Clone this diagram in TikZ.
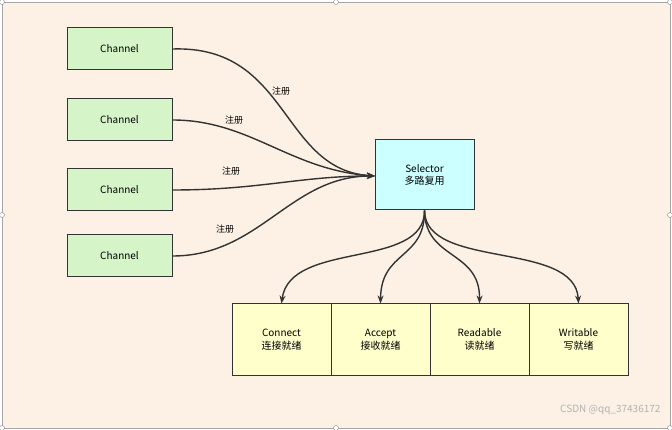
\documentclass[tikz,border=0pt]{standalone}
\usepackage{fontspec}
\setmainfont{Liberation Sans}
\newfontfamily\cjk{Noto Sans CJK SC}
\usetikzlibrary{arrows.meta}
\definecolor{bg}{HTML}{FCF1E4}
\definecolor{gr}{HTML}{D5F5C8}
\definecolor{cy}{HTML}{CCFFFF}
\definecolor{ye}{HTML}{FFFFCC}
\definecolor{ln}{HTML}{333333}
\begin{document}
\begin{tikzpicture}[x=1pt,y=-1pt,
 box/.style={draw=ln,line width=1pt,minimum width=105pt,minimum height=42pt,font=\fontsize{10}{12.5}\selectfont\cjk,align=center,inner sep=0},
 ch/.style={box,fill=gr},
 bt/.style={box,fill=ye,minimum width=99pt,minimum height=71pt},
 ar/.style={draw=ln,line width=1.4pt,-{Stealth[length=8pt,width=6pt]}},
 lb/.style={font=\fontsize{9}{11}\selectfont\cjk},
 hd/.style={circle,draw=gray,fill=white,inner sep=0,minimum size=5pt}]
\useasboundingbox (0,0) rectangle (672,430);
\draw[gray!70,fill=bg] (2,2) rectangle (670,428);
\foreach \p in {(2,2),(336,2),(670,2),(2,215),(670,215),(2,428),(336,428),(670,428)} \node[hd] at \p {};
\node[ch] (c1) at (119.5,49) {Channel};
\node[ch] (c2) at (119.5,120) {Channel};
\node[ch] (c3) at (119.5,190) {Channel};
\node[ch] (c4) at (119.5,256) {Channel};
\node[box,fill=cy,minimum width=99pt,minimum height=70pt] (s) at (424.5,175) {Selector\\多路复用};
\node[bt] (b1) at (281.5,339.5) {Connect\\连接就绪};
\node[bt] (b2) at (380.5,339.5) {Accept\\接收就绪};
\node[bt] (b3) at (479.5,339.5) {Readable\\读就绪};
\node[bt] (b4) at (578.5,339.5) {Writable\\写就绪};
\coordinate (t) at (375,176);
\draw[ar] (c1.east) .. controls (290,45) and (280,170) .. (t);
\draw[ar] (c2.east) .. controls (250,120) and (290,170) .. (t);
\draw[ar] (c3.east) .. controls (260,190) and (300,176) .. (t);
\draw[ar] (c4.east) .. controls (260,256) and (290,176) .. (t);
\node[lb] at (281,91) {注册};
\node[lb] at (234,120) {注册};
\node[lb] at (231,171) {注册};
\node[lb] at (225,229) {注册};
\draw[ar] (s.south) .. controls (425,270) and (290,240) .. (b1.north);
\draw[ar] (s.south) .. controls (425,260) and (381,250) .. (b2.north);
\draw[ar] (s.south) .. controls (425,260) and (480,250) .. (b3.north);
\draw[ar] (s.south) .. controls (425,270) and (575,240) .. (b4.north);
\node[font=\fontsize{10}{12}\selectfont\cjk,text=gray!60,anchor=east] (w) at (664,410) {CSDN @qq\_37436172};
\end{tikzpicture}
\end{document}
